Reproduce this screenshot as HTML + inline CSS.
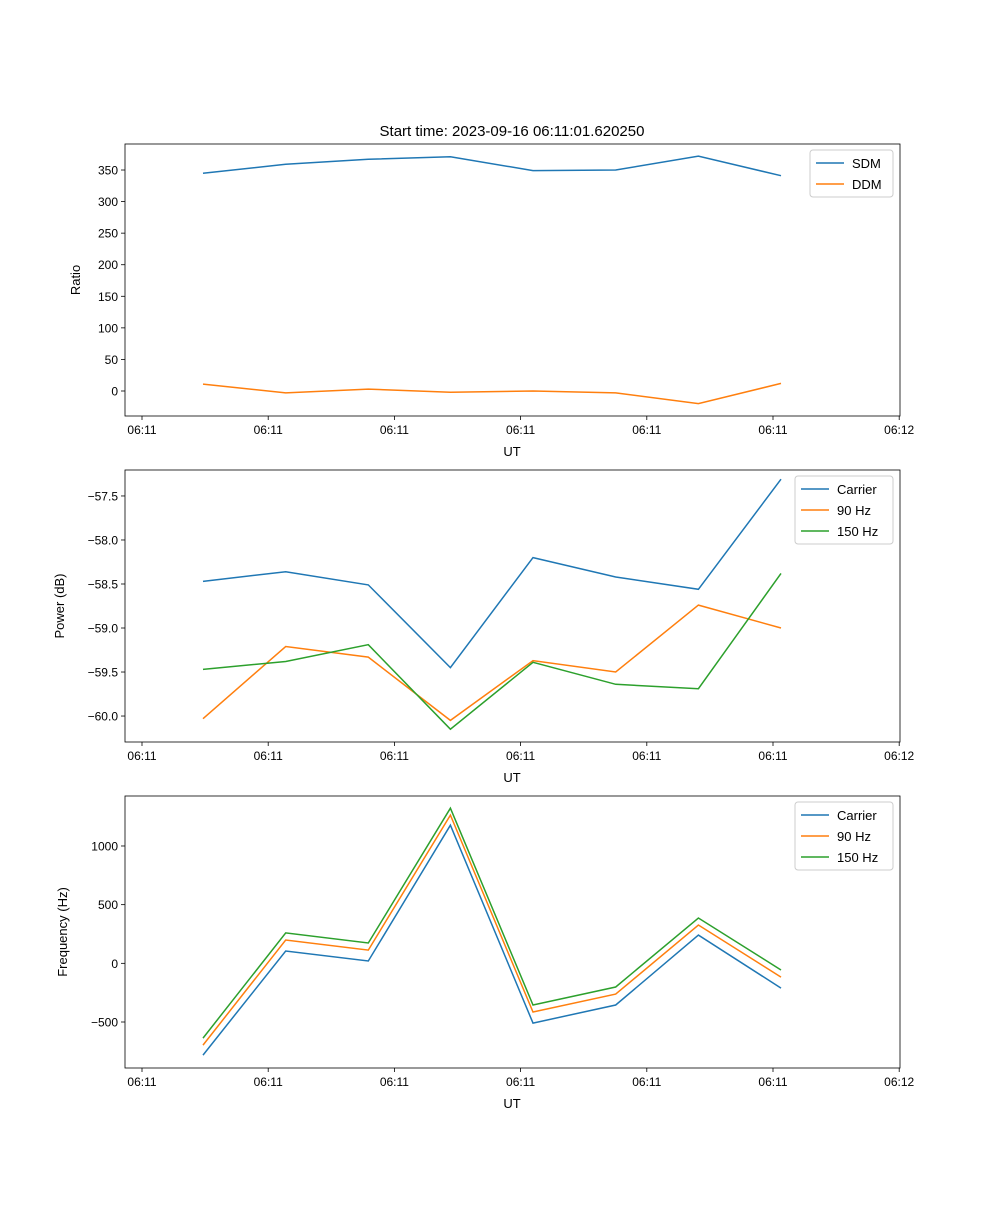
<!DOCTYPE html>
<html><head><meta charset="utf-8"><style>
body{margin:0;background:#fff}
svg{font-family:"Liberation Sans","DejaVu Sans",sans-serif}
</style></head><body>
<svg id="fig" width="1000" height="1200" xmlns="http://www.w3.org/2000/svg">
<rect width="1000" height="1200" fill="#fff"/>
<text x="512" y="136" font-size="15" text-anchor="middle">Start time: 2023-09-16 06:11:01.620250</text>
</svg>
<script>
const times=[1.62,1.751,1.882,2.012,2.143,2.274,2.405,2.536];
const xTickVals=[1.5233,1.7233,1.9233,2.1233,2.3233,2.5233,2.7233];
const xTickLabels=["06:11","06:11","06:11","06:11","06:11","06:11","06:12"];
const sdm=[345,359,367,371,349,350,372,341];
const ddm=[11,-3,3,-2,0,-3,-20,12];
const pCarrier=[-58.47,-58.36,-58.51,-59.45,-58.2,-58.42,-58.56,-57.31];
const p90=[-60.03,-59.21,-59.33,-60.05,-59.37,-59.5,-58.74,-59.0];
const p150=[-59.47,-59.38,-59.19,-60.15,-59.39,-59.64,-59.69,-58.38];
const fCarrier=[-782,105,20,1177,-509,-355,241,-211];
const f90=[-697,199,113,1263,-415,-262,327,-117];
const f150=[-637,259,173,1322,-355,-202,386,-57];
const y1Ticks=[0,50,100,150,200,250,300,350];
const y2Ticks=[-60.0,-59.5,-59.0,-58.5,-58.0,-57.5];
const y3Ticks=[-500,0,500,1000];
const C=["#1f77b4","#ff7f0e","#2ca02c"];
const NS="http://www.w3.org/2000/svg";
const svg=document.getElementById('fig');
const L=125,R=900,px=631,x0=1.5233-17/631;
function X(t){return 142+(t-1.5233)*px;}
function el(tag,a,parent){const e=document.createElementNS(NS,tag);for(const k in a)e.setAttribute(k,a[k]);(parent||svg).appendChild(e);return e;}
function panel(i,top,bot,ymin,ymax,yt,fmt,ylabel,series,names,leg){
  const g=el('g',{});
  
  
  const Y=v=>bot-(v-ymin)/(ymax-ymin)*(bot-top);
  series.forEach((s,k)=>{
    const p=el('polyline',{points:s.map((v,j)=>X(times[j]).toFixed(1)+','+Y(v).toFixed(1)).join(' '),fill:'none',stroke:C[k],'stroke-width':1.5},g);
    
    
  });
  const fr=el('rect',{x:L,y:top,width:R-L,height:bot-top,fill:'none',stroke:'#000','stroke-width':0.8},g);
  
  
  xTickVals.forEach((t,j)=>{
    const x=X(t);
    el('line',{x1:x,x2:x,y1:bot,y2:bot+4,stroke:'#000','stroke-width':0.8},g);
    const tx=el('text',{x:x,y:bot+18,'font-size':12,'text-anchor':'middle'},g);tx.textContent=xTickLabels[j];
    
    
  });
  const xl=el('text',{x:512,y:bot+40,'font-size':13,'text-anchor':'middle'},g);xl.textContent='UT';
  
  
  yt.forEach(v=>{
    const y=Y(v);
    el('line',{x1:L-4,x2:L,y1:y,y2:y,stroke:'#000','stroke-width':0.8},g);
    const tx=el('text',{x:L-7,y:y+4.5,'font-size':12,'text-anchor':'end'},g);tx.textContent=fmt(v);
    
    
  });
  const yl=el('text',{x:0,y:0,'font-size':13,'text-anchor':'middle',transform:`translate(${leg.yx},${(top+bot)/2}) rotate(-90)`},g);yl.textContent=ylabel;
  
  
  const lg=el('g',{},g);
  
  
  el('rect',{x:leg.x,y:top+6,width:R-7-leg.x,height:names.length*21+5,fill:'#fff',stroke:'#ccc',rx:3},lg);
  names.forEach((n,k)=>{
    const y=top+6+13+k*21;
    el('line',{x1:leg.x+6,x2:leg.x+34,y1:y,y2:y,stroke:C[k],'stroke-width':1.5},lg);
    const t=el('text',{x:leg.x+42,y:y+5,'font-size':13},lg);t.textContent=n;
    
    
  });
}
panel(1,144,416,-39.6,391.2,y1Ticks,v=>v<0?'−'+(-v):String(v),'Ratio',[sdm,ddm],['SDM','DDM'],{x:810,yx:80});
panel(2,470,742,-60.295,-57.205,y2Ticks,v=>'−'+(-v).toFixed(1),'Power (dB)',[pCarrier,p90,p150],['Carrier','90 Hz','150 Hz'],{x:795,yx:64});
panel(3,796,1068,-892,1426,y3Ticks,v=>v<0?'−'+(-v):String(v),'Frequency (Hz)',[fCarrier,f90,f150],['Carrier','90 Hz','150 Hz'],{x:795,yx:67});
</script>
</body></html>
